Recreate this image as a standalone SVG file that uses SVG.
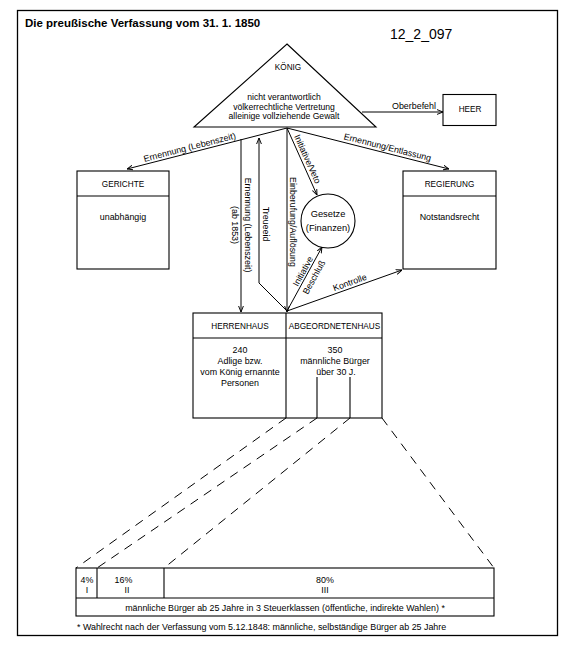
<svg xmlns="http://www.w3.org/2000/svg" width="570" height="647" viewBox="0 0 570 647">
<style>
text{font-family:"Liberation Sans",Arial,sans-serif;fill:#000}
.s{font-size:8.9px}
.k{font-size:8.6px}
.c{font-size:8.2px}
.m{text-anchor:middle}
.b{fill:none;stroke:#000;stroke-width:1.1}
.ln{fill:none;stroke:#000;stroke-width:1}
.ar{marker-end:url(#ah)}
.d{fill:none;stroke:#000;stroke-width:1;stroke-dasharray:9 7}
</style>
<defs>
<marker id="ah" viewBox="0 0 10 10" refX="10" refY="5" markerWidth="6" markerHeight="6" orient="auto" markerUnits="userSpaceOnUse">
<path d="M0,1 L10,5 L0,9" fill="none" stroke="#000" stroke-width="1.6"/>
</marker>
</defs>
<rect width="570" height="647" fill="#fff"/>
<rect x="17.5" y="10.5" width="540" height="625" fill="none" stroke="#000" stroke-width="1.3"/>
<g id="title">
<text x="25" y="27" style="font-size:11.5px;font-weight:bold">Die preußische Verfassung vom 31. 1. 1850</text>
</g>
<g id="code">
<text x="390" y="39" style="font-size:14px">12_2_097</text>
</g>
<g id="koenig">
<polygon points="287,44 376,127 194,127" class="b"/>
<text x="288" y="70" class="c m">KÖNIG</text>
<text x="284" y="100" class="k m">nicht verantwortlich</text>
<text x="284" y="109.5" class="k m">völkerrechtliche Vertretung</text>
<text x="284" y="119" class="k m">alleinige vollziehende Gewalt</text>
</g>
<g id="heer">
<rect x="443" y="94.5" width="53" height="31" class="b"/>
<text x="470" y="112" class="c m">HEER</text>
</g>
<g id="gerichte">
<rect x="77" y="171" width="92" height="98" class="b"/>
<line x1="77" y1="196" x2="169" y2="196" class="b"/>
<text x="123" y="186.5" class="c m">GERICHTE</text>
<text x="123" y="220" class="s m">unabhängig</text>
</g>
<g id="regierung">
<rect x="403" y="171" width="93" height="98" class="b"/>
<line x1="403" y1="196" x2="496" y2="196" class="b"/>
<text x="449.5" y="186.5" class="c m">REGIERUNG</text>
<text x="449.5" y="219.5" class="s m">Notstandsrecht</text>
</g>
<g id="gesetze">
<circle cx="328" cy="221" r="27" class="b"/>
<text x="328" y="216.5" style="font-size:9.3px" class="m">Gesetze</text>
<text x="328" y="230.5" style="font-size:9.3px" class="m">(Finanzen)</text>
</g>
<g id="parlament">
<rect x="193" y="313" width="189" height="105" class="b"/>
<line x1="193" y1="338" x2="382" y2="338" class="b"/>
<line x1="286" y1="313" x2="286" y2="418" class="b"/>
<line x1="317" y1="377" x2="317" y2="418" class="b"/>
<line x1="350" y1="377" x2="350" y2="418" class="b"/>
<text x="240" y="328.5" class="c m">HERRENHAUS</text>
<text x="334.5" y="328.5" class="c m">ABGEORDNETENHAUS</text>
<text x="240" y="353" class="s m">240</text>
<text x="240" y="364" class="s m">Adlige bzw.</text>
<text x="240" y="375" class="s m">vom König ernannte</text>
<text x="240" y="386" class="s m">Personen</text>
<text x="335" y="353" class="s m">350</text>
<text x="335" y="364" class="s m">männliche Bürger</text>
<text x="336" y="375" class="s m">über 30 J.</text>
</g>
<g id="wahlklassen">
<rect x="76" y="568" width="418" height="48" class="b"/>
<line x1="76" y1="598" x2="494" y2="598" class="b"/>
<line x1="97" y1="568" x2="97" y2="598" class="b"/>
<line x1="164" y1="568" x2="164" y2="598" class="b"/>
<text x="87" y="582.5" class="s m">4%</text>
<text x="87" y="593" class="s m">I</text>
<text x="123.5" y="582.5" class="s m">16%</text>
<text x="127" y="593" class="s m">II</text>
<text x="325" y="582.5" class="s m">80%</text>
<text x="325" y="593" class="s m">III</text>
<text x="285" y="611" class="s m">männliche Bürger ab 25 Jahre in 3 Steuerklassen (öffentliche, indirekte Wahlen) *</text>
</g>
<g id="footnote">
<text x="77" y="630" class="s">* Wahlrecht nach der Verfassung vom 5.12.1848: männliche, selbständige Bürger ab 25 Jahre</text>
</g>
<g id="connectors">
<line x1="362" y1="112" x2="443" y2="112" class="ln ar"/>
<line x1="287" y1="128" x2="127" y2="169" class="ln ar"/>
<line x1="287" y1="128" x2="449" y2="169" class="ln ar"/>
<line x1="241" y1="139" x2="241" y2="312" class="ln ar"/>
<polyline points="287,311 259,283 259,138" class="ln ar"/>
<line x1="287" y1="128" x2="287" y2="312" class="ln ar"/>
<line x1="287" y1="128" x2="317" y2="195" class="ln ar"/>
<line x1="287" y1="311" x2="322" y2="247" class="ln ar"/>
<line x1="287" y1="311" x2="402" y2="270" class="ln ar"/>
<line x1="286" y1="418" x2="76" y2="568" class="d"/>
<line x1="317" y1="418" x2="97" y2="568" class="d"/>
<line x1="350" y1="418" x2="164" y2="568" class="d"/>
<line x1="382" y1="418" x2="494" y2="568" class="d"/>
</g>
<g id="connector-labels">
<text x="414" y="109" class="s m">Oberbefehl</text>
<text transform="translate(191,152.6) rotate(-14.4)" y="-2.5" class="s m">Ernennung (Lebenszeit)</text>
<text transform="translate(386,153.1) rotate(14.2)" y="-3" class="s m">Ernennung/Entlassung</text>
<text transform="translate(245,225) rotate(90)" class="s m">Ernennung (Lebenszeit)</text>
<text transform="translate(232,225) rotate(90)" class="s m">(ab 1853)</text>
<text transform="translate(263,224) rotate(90)" class="s m">Treueeid</text>
<text transform="translate(290,222) rotate(90)" class="s m">Einberufung/Auflösung</text>
<text transform="translate(302,161.5) rotate(65.9)" y="-3" class="s m">Initiative/Veto</text>
<text transform="translate(307.4,273.7) rotate(-61.3)" y="-2" class="s m">Initiative</text>
<text transform="translate(307.4,273.7) rotate(-61.3)" y="10.5" class="s m">Beschluß</text>
<text transform="translate(351.7,287.7) rotate(-19.8)" y="-2.5" class="s m">Kontrolle</text>
</g>
</svg>
